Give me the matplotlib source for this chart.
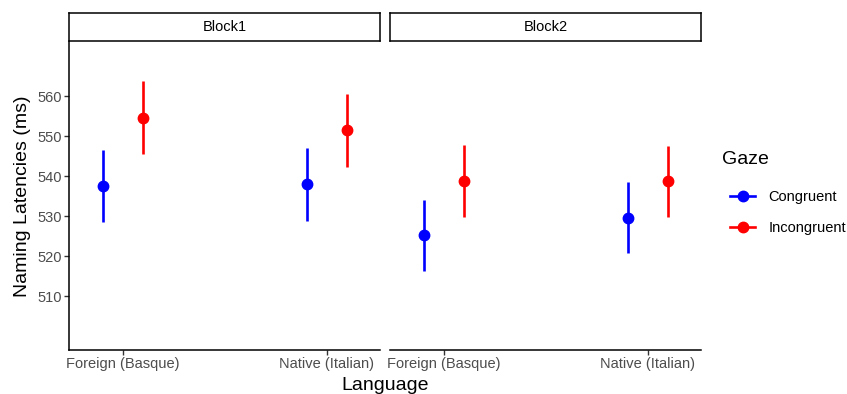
import numpy as np
import matplotlib.pyplot as plt
from matplotlib.lines import Line2D

plt.rcParams['font.family'] = ['Liberation Sans', 'DejaVu Sans']

languages = ['Foreign (Basque)', 'Native (Italian)']
blocks = ['Block1', 'Block2']
gaze = ['Congruent', 'Incongruent']
colors = {'Congruent': '#0000FF', 'Incongruent': '#FF0000'}

# means and CI bounds per block, per gaze, per language
means = {
    'Block1': {'Congruent': [537.5, 537.9], 'Incongruent': [554.6, 551.4]},
    'Block2': {'Congruent': [525.2, 529.5], 'Incongruent': [538.8, 538.7]},
}
lower = {
    'Block1': {'Congruent': [528.4, 528.8], 'Incongruent': [545.5, 542.3]},
    'Block2': {'Congruent': [516.3, 520.7], 'Incongruent': [529.8, 529.7]},
}
upper = {
    'Block1': {'Congruent': [546.5, 546.9], 'Incongruent': [563.7, 560.6]},
    'Block2': {'Congruent': [534.0, 538.4], 'Incongruent': [547.7, 547.6]},
}
yticks = [510, 520, 530, 540, 550, 560]

W, H = 847, 394
fig = plt.figure(figsize=(W / 100, H / 100), dpi=100)

lefts = [69, 390]
pw = 311
top, bottom = 42, 350
dodge = {'Congruent': -0.1, 'Incongruent': 0.1}
x = np.arange(1, len(languages) + 1)

for i, b in enumerate(blocks):
    ax = fig.add_axes([lefts[i] / W, (H - bottom) / H, pw / W, (bottom - top) / H])
    for g in gaze:
        m = np.array(means[b][g])
        lo = np.array(lower[b][g])
        hi = np.array(upper[b][g])
        ax.vlines(x + dodge[g], lo, hi, color=colors[g], lw=1.9)
        ax.plot(x + dodge[g], m, 'o', color=colors[g], ms=7.5)
    ax.set_xlim(0.735, 2.26)
    ax.set_ylim(496.5, 573.5)
    ax.set_xticks(x)
    ax.set_xticklabels(languages, fontsize=10.5, color='#4D4D4D')
    ax.set_yticks(yticks)
    for s in ['top', 'right']:
        ax.spines[s].set_visible(False)
    for s in ['left', 'bottom']:
        ax.spines[s].set_linewidth(1.1)
    ax.tick_params(length=3.5, width=1.0, color='#333333', pad=1.5)
    if i == 0:
        ax.set_yticklabels([str(v) for v in yticks], fontsize=10.5, color='#4D4D4D')
        ax.set_ylabel('Naming Latencies (ms)', fontsize=14, labelpad=5)
    else:
        ax.spines['left'].set_visible(False)
        ax.tick_params(axis='y', left=False, labelleft=False)
    # facet strip
    sax = fig.add_axes([lefts[i] / W, (H - 41) / H, pw / W, 28 / H])
    sax.set_xticks([])
    sax.set_yticks([])
    for s in sax.spines.values():
        s.set_linewidth(1.1)
    sax.text(0.5, 0.5, b, ha='center', va='center', fontsize=10.5, transform=sax.transAxes)

fig.text((69 + 701) / 2 / W, 1 - 385 / H, 'Language', ha='center', va='center', fontsize=14)

# legend: title as separate text so the gap matches
fig.text(722 / W, 1 - 160 / H, 'Gaze', ha='left', va='center', fontsize=14)
hl = [Line2D([0], [0], color=colors[g], lw=1.9, marker='o', ms=7.5) for g in gaze]
fig.legend(hl, gaze, loc='upper left', bbox_to_anchor=(720 / W, 1 - 180 / H),
           frameon=False, fontsize=10.5, borderpad=0.2,
           handlelength=1.7, handletextpad=0.9, labelspacing=1.15)

fig.savefig('out.png', dpi=100)
